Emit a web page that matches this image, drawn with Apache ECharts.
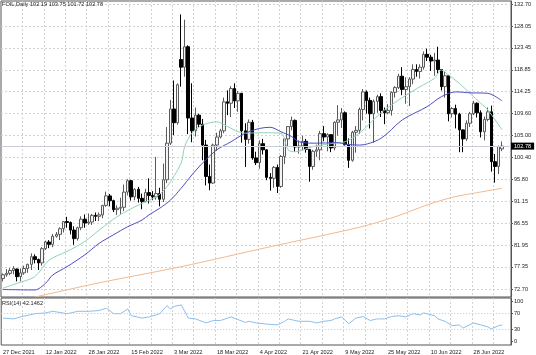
<!DOCTYPE html>
<html><head><meta charset="utf-8">
<script src="https://cdn.jsdelivr.net/npm/echarts@6/dist/echarts.min.js"></script>
<style>html,body{margin:0;padding:0;background:#fff}#c{width:536px;height:355px}</style>
</head><body><div id="c"></div>
<script>
// ---- data ----
const symbolName = 'FOIL,Daily';
const tickLabels = ['27 Dec 2021','12 Jan 2022','28 Jan 2022','15 Feb 2022','3 Mar 2022','18 Mar 2022','4 Apr 2022','21 Apr 2022','9 May 2022','25 May 2022','10 Jun 2022','28 Jun 2022'];
const barsPerLabel = 12;
const barsPerGrid = 6;
const priceTicks = [72.70,77.35,81.95,86.55,91.15,95.80,100.40,105.00,109.60,114.25,118.85,123.45,128.05,132.70];
const priceMin = 71.016, priceMax = 133.332;
const rsiTicks = [0,30,70,100];
const rsiLevels = [30,70];
const rsiMin = -8.25, rsiMax = 109.25;
const rsiLast = 42.1462;

const open = [74.9,75.7,76.0,76.6,76.9,75.3,76.1,77.0,77.9,79.5,78.9,78.2,81.2,82.6,82.1,83.8,84.2,85.4,86.9,86.7,85.1,83.3,85.6,87.4,86.6,86.8,88.2,88.0,88.3,90.3,92.3,91.3,89.4,89.7,89.9,93.1,95.5,92.1,93.7,91.8,91.1,93.0,92.4,92.1,92.8,91.6,95.7,103.4,110.6,107.7,121.0,119.4,123.7,108.7,106.0,109.3,107.4,103.0,96.4,95.0,103.0,104.7,106.0,112.1,111.8,114.9,112.3,113.9,106.0,104.2,107.8,100.3,99.3,103.3,102.0,96.2,96.0,98.3,94.3,100.6,104.3,106.9,108.2,102.6,102.8,103.8,102.1,98.5,101.7,102.0,105.4,104.7,105.2,102.4,107.8,108.3,109.8,103.1,99.8,105.7,106.1,110.5,114.2,112.4,109.6,112.2,113.2,110.3,109.8,110.3,114.1,115.1,117.5,114.7,115.3,116.9,118.9,118.5,119.4,122.1,121.5,120.7,120.9,118.9,115.3,117.6,109.6,110.7,109.5,106.2,104.3,107.6,109.6,111.8,109.8,105.8,108.4,110.0,99.5,98.5,102.19];
const high = [76.0,76.9,77.1,77.5,77.0,77.0,77.6,78.0,80.2,80.0,79.1,81.5,82.9,83.0,84.3,84.7,85.7,87.0,87.9,86.9,85.9,85.8,88.0,88.4,88.6,88.5,88.8,88.8,90.4,93.2,92.7,91.5,90.3,91.9,94.7,95.8,95.7,93.9,94.2,92.8,93.8,96.0,93.3,100.5,94.0,99.1,106.8,112.5,116.6,116.0,130.5,129.4,124.0,116.0,110.9,109.6,108.5,104.1,98.9,103.3,105.6,106.4,113.0,114.5,115.4,116.0,114.4,114.0,107.6,108.4,108.3,101.6,104.0,104.3,102.1,97.1,98.6,98.9,100.9,104.5,106.9,109.0,108.4,104.0,105.0,104.3,102.1,102.0,103.1,106.0,107.0,105.5,105.3,108.0,111.4,110.8,110.1,104.4,106.0,107.0,110.9,114.8,114.5,113.0,112.6,113.6,113.9,110.9,111.6,114.3,115.4,118.0,119.4,117.3,117.3,120.0,120.0,120.0,122.7,123.3,122.0,122.4,123.7,119.0,118.5,117.7,111.0,111.5,109.8,106.3,108.2,110.0,112.3,112.0,110.3,109.0,110.9,111.3,101.1,102.9,103.75];
const low = [74.3,75.3,75.6,75.8,74.3,74.3,75.7,76.1,76.7,78.1,76.7,77.6,80.9,81.3,81.5,83.5,83.0,84.6,85.6,84.2,82.0,82.9,85.1,85.6,86.2,86.2,87.0,87.0,87.6,90.0,90.1,88.9,88.3,88.5,89.1,92.4,91.3,91.4,90.9,89.5,91.0,90.7,91.4,91.5,90.1,91.0,95.0,103.0,105.1,107.3,115.3,117.4,105.3,103.6,104.8,106.8,99.8,94.5,93.5,94.8,101.8,104.4,105.5,109.3,108.9,110.8,110.0,103.5,98.4,103.3,99.9,98.8,98.0,101.0,95.6,93.4,94.0,92.9,94.0,99.0,102.6,106.1,101.6,101.2,101.9,101.4,95.3,97.8,100.5,99.8,103.8,101.7,101.5,101.9,105.0,106.6,102.9,98.2,99.5,101.4,105.3,108.2,109.6,106.5,103.5,109.8,108.9,107.4,109.5,109.2,113.0,114.8,113.5,111.7,111.2,115.8,117.4,117.0,118.9,120.7,118.6,117.6,118.1,114.5,113.0,108.0,108.8,106.5,101.5,101.5,103.9,106.8,109.3,108.8,104.6,104.0,108.0,97.4,95.1,96.9,101.72];
const close = [75.7,76.0,76.6,77.0,75.3,76.1,77.0,77.9,79.5,78.9,78.2,81.2,82.6,82.1,83.8,84.2,85.4,86.9,86.7,85.1,83.3,85.6,87.4,86.6,86.8,88.2,88.0,88.3,90.3,92.3,91.3,89.4,89.7,89.9,93.1,95.5,92.1,93.7,91.8,91.1,93.0,92.4,92.1,92.8,91.6,95.7,103.4,110.6,107.7,115.7,119.4,123.7,108.7,106.0,109.3,107.4,103.0,96.4,95.0,103.0,104.7,106.0,112.1,111.8,114.9,112.3,113.9,106.0,104.2,107.8,100.3,99.3,103.3,102.0,96.2,96.0,98.3,94.3,100.6,104.3,106.9,108.2,102.6,102.8,103.8,102.1,98.5,101.7,102.0,105.4,104.7,105.2,102.4,107.8,108.3,109.8,103.1,99.8,105.7,106.1,110.5,114.2,112.4,109.6,112.2,113.2,110.3,109.8,110.3,114.1,115.1,117.5,114.7,115.3,116.9,118.9,118.5,119.4,122.1,121.5,120.7,120.9,118.9,115.3,117.6,109.6,110.7,109.5,106.2,104.3,107.6,109.6,111.8,109.8,105.8,108.4,110.0,99.5,98.5,102.7,102.78];

const maFast = [[0,72.85],[4,73.9],[9,75.3],[13,78.8],[18,80.6],[23,82.7],[27,85.1],[32,87.9],[37,90.0],[43,92.1],[46,94.2],[50,99.2],[51,102.7],[53,105.5],[56,107.2],[60,107.9],[63,106.9],[66,105.8],[68,105.5],[72,105.6],[78,105.5],[80,102.0],[82,101.6],[87,102.7],[93,103.4],[96,103.7],[100,105.5],[106,109.75],[111,112.5],[117,115.3],[121,117.05],[123,118.8],[125,117.75],[128,116.0],[131,113.9],[134,111.8],[136,110.4],[140,106.2]];
const maMid = [[0,72.6],[9,72.5],[12,73.9],[14,75.65],[18,77.4],[23,79.9],[27,82.3],[31,84.1],[35,85.8],[39,87.2],[41,88.3],[44,89.7],[47,91.4],[50,93.9],[53,96.7],[56,99.2],[60,102.0],[64,103.7],[68,105.5],[72,106.5],[75,106.75],[78,105.8],[81,104.8],[83,103.7],[87,103.4],[94,103.5],[96,103.2],[100,103.0],[106,104.4],[112,108.3],[119,111.1],[123,113.2],[127,114.2],[131,114.0],[136,113.9],[140,112.3]];
const maSlow = [[9,71.0],[27,74.0],[50,77.4],[75,81.6],[100,85.7],[110,87.9],[119,90.4],[126,92.0],[132,92.85],[140,93.9]];
const rsi = [[0,59],[3,57],[5,62],[9,70],[12,72],[14,76],[18,70],[21,76],[24,76],[27,78],[29,84],[31,70],[33,70],[35,82],[36,65],[39,59],[41,62],[44,70],[46,90],[47,82],[48,88],[50,92],[52,59],[54,57],[57,47],[59,53],[61,53],[64,62],[66,55],[68,48],[69,51],[71,47],[74,44],[77,42],[79,51],[80,57],[83,51],[86,51],[88,47],[90,51],[92,53],[93,57],[95,62],[97,45],[99,59],[101,63],[103,53],[105,57],[107,57],[109,63],[111,65],[113,62],[115,70],[117,67],[118,72],[121,65],[122,57],[124,51],[126,40],[128,42],[129,34],[132,47],[134,42],[136,37],[137,32],[139,40],[140,42.15]];

// ---- chart ----
const N = open.length;
const slots = N + 2;
const cats = Array.from({length: slots}, (_, i) => String(i));
const candles = open.map((o, i) => [o, close[i], low[i], high[i]]);
const last = N - 1;
const FONT = 'Liberation Sans';
const FS = 5.6;
const gridLine = {show: true, lineStyle: {color: '#d2d2d2', width: 1, type: [2, 2]}};
const txt = {fontFamily: FONT, fontSize: FS, color: '#222'};

const chart = echarts.init(document.getElementById('c'), null, {renderer: 'canvas'});
chart.setOption({
  animation: false,
  backgroundColor: '#ffffff',
  title: [
    {text: symbolName + ' ' + [open[last], high[last], low[last], close[last]].map(v => v.toFixed(2)).join(' '),
     left: 2, top: 1, padding: 0, textStyle: Object.assign({fontWeight: 'normal'}, txt)},
    {text: 'RSI(14) ' + rsiLast.toFixed(4), left: 2, top: 300, padding: 0, textStyle: Object.assign({fontWeight: 'normal'}, txt)}
  ],
  grid: [
    {left: 1, right: 25, top: 1, height: 296, show: true, borderColor: '#555', borderWidth: 1},
    {left: 1, right: 25, top: 298, height: 47, show: true, borderColor: '#555', borderWidth: 1}
  ],
  xAxis: [
    {type: 'category', gridIndex: 0, data: cats, boundaryGap: true,
     axisLine: {show: false}, axisTick: {show: false}, axisLabel: {show: false},
     splitLine: Object.assign({interval: (i) => i % barsPerGrid === 0 && i > 0}, gridLine)},
    {type: 'category', gridIndex: 1, data: cats, boundaryGap: true,
     axisLine: {show: false}, axisTick: {show: false},
     axisLabel: Object.assign({show: true, interval: (i) => i % barsPerLabel === 0 && i / barsPerLabel < tickLabels.length,
       formatter: (v) => tickLabels[Math.round(Number(v) / barsPerLabel)] || '', align: 'left', margin: 4}, txt),
     splitLine: Object.assign({interval: (i) => i % barsPerGrid === 0 && i > 0}, gridLine)}
  ],
  yAxis: [
    {type: 'value', gridIndex: 0, position: 'right', min: priceMin, max: priceMax, scale: true,
     axisLine: {show: true, lineStyle: {color: '#555'}},
     axisTick: {show: true, length: 2, customValues: priceTicks, lineStyle: {color: '#555'}},
     axisLabel: Object.assign({customValues: priceTicks, formatter: (v) => v.toFixed(2), margin: 3}, txt),
     splitLine: gridLine},
    {type: 'value', gridIndex: 1, position: 'right', min: rsiMin, max: rsiMax,
     axisLine: {show: true, lineStyle: {color: '#555'}},
     axisTick: {show: true, length: 2, customValues: rsiTicks, lineStyle: {color: '#555'}},
     axisLabel: Object.assign({customValues: rsiTicks, formatter: (v) => String(v), margin: 3}, txt),
     splitLine: {show: false}}
  ],
  series: [
    {type: 'candlestick', xAxisIndex: 0, yAxisIndex: 0, data: candles, barWidth: 3,
     itemStyle: {color: '#f4f4f4', color0: '#000000', borderColor: '#5a5a5a', borderColor0: '#000000', borderWidth: 1},
     markLine: {symbol: 'none', silent: true, animation: false,
       data: [{yAxis: close[last]}],
       lineStyle: {color: '#c9ced6', width: 1, type: 'solid'},
       label: {position: 'end', distance: 0, formatter: (p) => Number(p.value).toFixed(2),
         backgroundColor: '#000', color: '#fff', fontFamily: FONT, fontSize: FS, padding: [1, 3, 0, 3]}}},
    {type: 'line', xAxisIndex: 0, yAxisIndex: 0, data: maFast, showSymbol: false, smooth: 0.3,
     lineStyle: {color: '#8fd4b4', width: 1}},
    {type: 'line', xAxisIndex: 0, yAxisIndex: 0, data: maMid, showSymbol: false, smooth: 0.3,
     lineStyle: {color: '#4d4dc8', width: 1}},
    {type: 'line', xAxisIndex: 0, yAxisIndex: 0, data: maSlow, showSymbol: false, smooth: 0.3,
     lineStyle: {color: '#f2b88e', width: 1}},
    {type: 'line', xAxisIndex: 1, yAxisIndex: 1, data: rsi, showSymbol: false,
     lineStyle: {color: '#8cbfee', width: 1},
     markLine: {symbol: 'none', silent: true, animation: false, label: {show: false},
       data: rsiLevels.map(v => ({yAxis: v})),
       lineStyle: {color: '#c4c4c4', width: 1, type: [1, 2]}}}
  ]
});
</script></body></html>
